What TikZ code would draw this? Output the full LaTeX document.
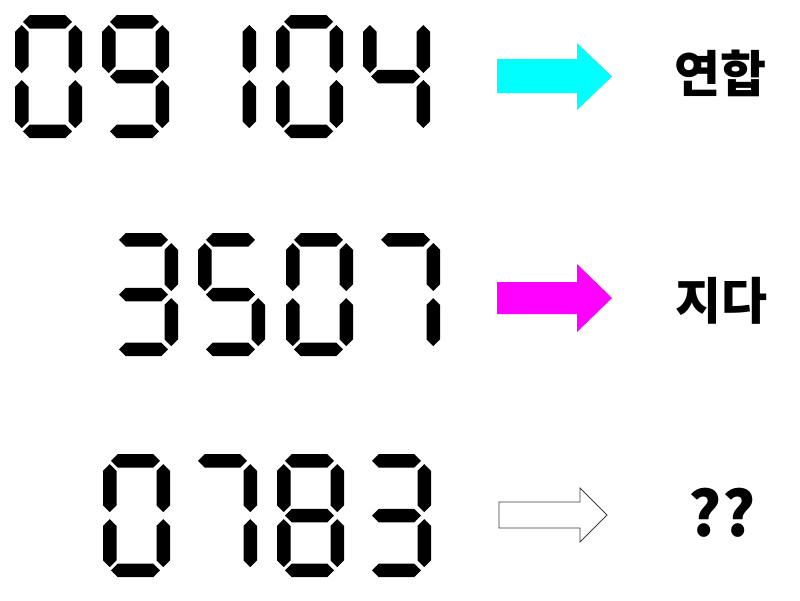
\documentclass[tikz,border=0pt]{standalone}
\usepackage{xcolor}
\usepackage{tikz}
\usepackage{fontspec}
\newfontfamily\krfont{Noto Sans CJK KR}
\definecolor{arrowcyan}{RGB}{0,255,255}
\definecolor{arrowmagenta}{RGB}{255,0,255}
\definecolor{arrowline}{RGB}{60,60,60}

% one bar of a seven-segment digit (left/top tip at #1,#2)
\newcommand{\hseg}[2]{\fill (#1,#2) -- ++(6.75,-6.75) -- ++(35.5,0) -- ++(6.75,6.75) -- ++(-6.75,6.75) -- ++(-35.5,0) -- cycle;}
\newcommand{\vseg}[2]{\fill (#1,#2) -- ++(6.75,6.75) -- ++(0,34.5) -- ++(-6.75,6.75) -- ++(-6.75,-6.75) -- ++(0,-34.5) -- cycle;}
\newcommand{\sega}{\hseg{8}{6.75}}
\newcommand{\segb}{\vseg{60.25}{10}}
\newcommand{\segc}{\vseg{60.25}{65}}
\newcommand{\segd}{\hseg{8}{116.25}}
\newcommand{\sege}{\vseg{6.75}{65}}
\newcommand{\segf}{\vseg{6.75}{10}}
\newcommand{\segg}{\hseg{8}{61.5}}
\newcommand{\sevenseg}[3]{\begin{scope}[shift={(#1,#2)}]#3\end{scope}}
\newcommand{\dzero}{\sega\segb\segc\segd\sege\segf}
\newcommand{\done}{\segb\segc}
\newcommand{\dthree}{\sega\segb\segc\segd\segg}
\newcommand{\dfour}{\segb\segc\segf\segg}
\newcommand{\dfive}{\sega\segc\segd\segf\segg}
\newcommand{\dseven}{\sega\segb\segc}
\newcommand{\deight}{\sega\segb\segc\segd\sege\segf\segg}
\newcommand{\dnine}{\sega\segb\segc\segd\segf\segg}

\begin{document}
\begin{tikzpicture}[x=1pt,y=-1pt]
    \useasboundingbox (0,0) rectangle (800,600);

    % Digits
    \sevenseg{15}{15}{\dzero}
    \sevenseg{102}{15}{\dnine}
    \sevenseg{189}{15}{\done}
    \sevenseg{276}{15}{\dzero}
    \sevenseg{363}{15}{\dfour}

    \sevenseg{111}{233}{\dthree}
    \sevenseg{198}{233}{\dfive}
    \sevenseg{286}{233}{\dzero}
    \sevenseg{373}{233}{\dseven}

    \sevenseg{103}{454}{\dzero}
    \sevenseg{190}{454}{\dseven}
    \sevenseg{277}{454}{\deight}
    \sevenseg{364}{454}{\dthree}

    % Arrows
    \fill[arrowcyan] (497,59) -- (577,59) -- (577,43) -- (612,76.5) -- (577,110) -- (577,93) -- (497,93) -- cycle;
    \fill[arrowmagenta] (497,282) -- (577,282) -- (577,264) -- (612,298) -- (577,332) -- (577,314) -- (497,314) -- cycle;
    \draw[arrowline,line width=0.8pt] (499,502) -- (580,502) -- (580,488) -- (607,515) -- (580,542) -- (580,528) -- (499,528) -- cycle;

    % Labels
    \node (yeonhap) at (720,73) {\krfont\bfseries\fontsize{50}{54}\selectfont 연합};
    \node (jida) at (721,301) {\krfont\bfseries\fontsize{50}{54}\selectfont 지다};
    \node (unknown) at (722,513) {\krfont\bfseries\fontsize{62}{66}\selectfont ??};
\end{tikzpicture}
\end{document}
